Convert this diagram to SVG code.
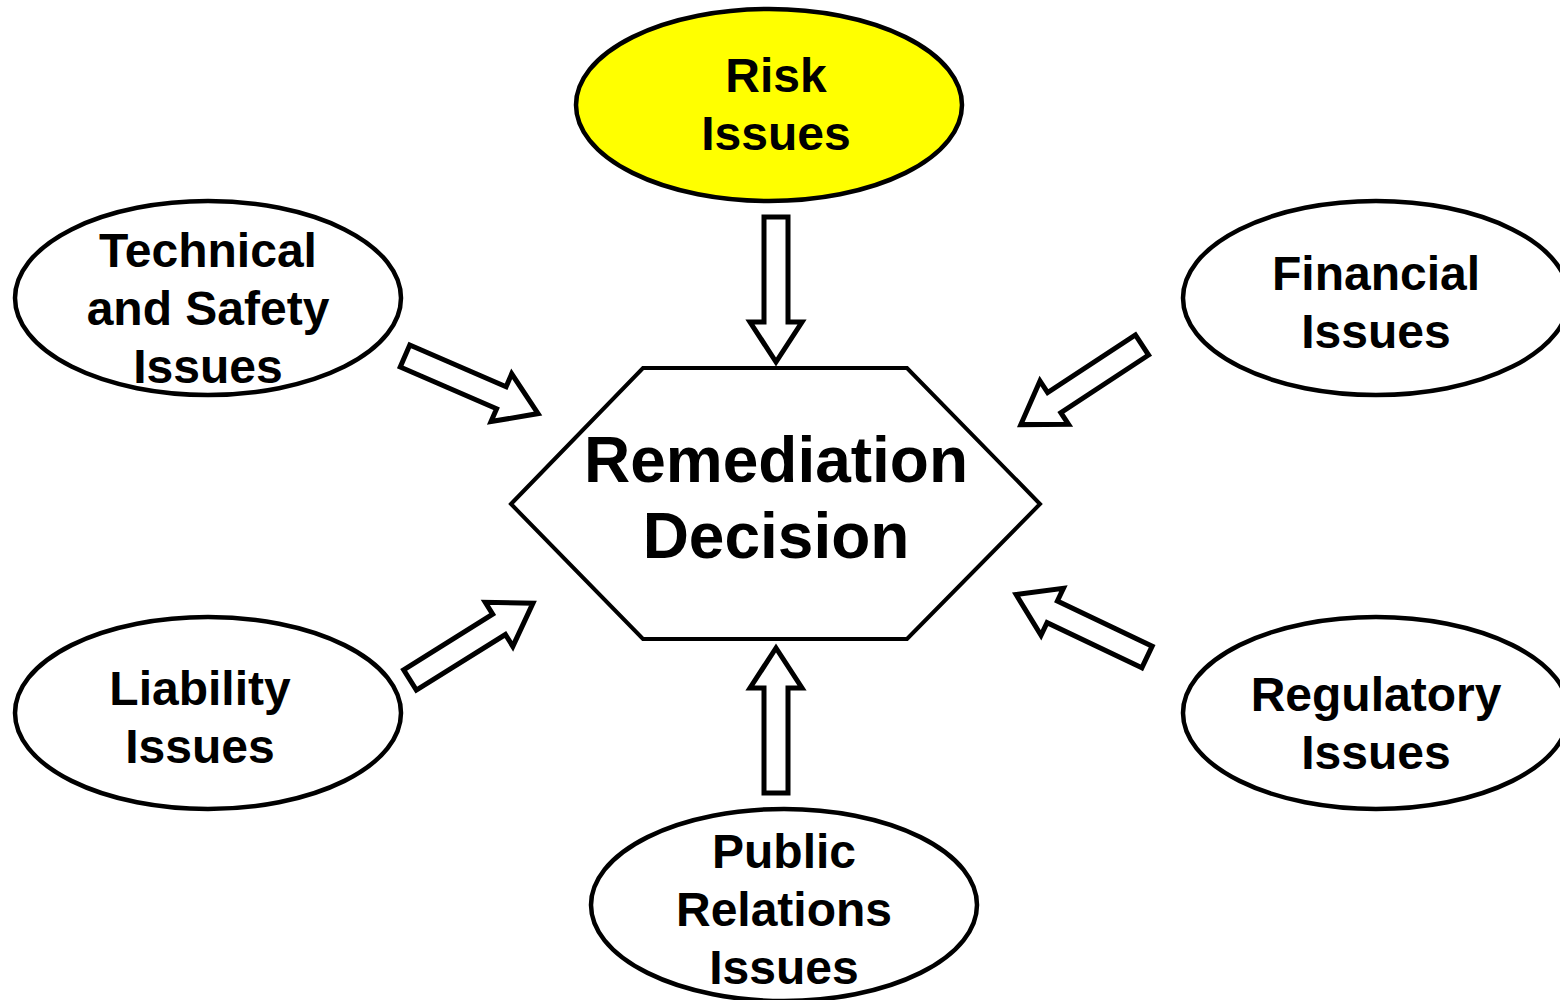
<svg xmlns="http://www.w3.org/2000/svg" width="1560" height="1000" viewBox="0 0 1560 1000">
  <style>
    .node { fill: #ffffff; stroke: #000000; stroke-width: 4.5; }
    .risk { fill: #ffff00; }
    .hex { fill: #ffffff; stroke: #000000; stroke-width: 4; stroke-linejoin: miter; }
    .arrow { fill: #ffffff; stroke: #000000; stroke-width: 5; stroke-linejoin: miter; }
    .label { font-family: "Liberation Sans", Arial, sans-serif; font-weight: bold; font-size: 48px; text-anchor: middle; fill: #000000; }
    .center-label { font-family: "Liberation Sans", Arial, sans-serif; font-weight: bold; font-size: 64px; text-anchor: middle; fill: #000000; }
  </style>
  <defs>
    <!-- block arrow pointing along +x, tail centre at origin -->
    <polygon id="blockArrow" points="0,-12 105,-12 105,-26 145,0 105,26 105,12 0,12"/>
  </defs>
  <rect width="1560" height="1000" fill="#ffffff"/>

  <g id="connectors">
    <use href="#blockArrow" class="arrow" transform="translate(776,217) rotate(90)"/>
    <use href="#blockArrow" class="arrow" transform="translate(776,793) rotate(-90)"/>
    <use href="#blockArrow" class="arrow" transform="translate(405,356) rotate(23.4)"/>
    <use href="#blockArrow" class="arrow" transform="translate(1142,345) rotate(146.7)"/>
    <use href="#blockArrow" class="arrow" transform="translate(410,680) rotate(-32)"/>
    <use href="#blockArrow" class="arrow" transform="translate(1147,657) rotate(-154.5)"/>
  </g>

  <g id="remediation-decision">
    <polygon class="hex" points="511,504 643,368 907,368 1040,504 907,639 643,639"/>
    <text class="center-label" x="776" y="482">Remediation</text>
    <text class="center-label" x="776" y="558">Decision</text>
  </g>

  <g id="risk-issues">
    <ellipse class="node risk" cx="769" cy="105" rx="193" ry="96"/>
    <text class="label" x="776" y="92">Risk</text>
    <text class="label" x="776" y="150">Issues</text>
  </g>

  <g id="technical-safety-issues">
    <ellipse class="node" cx="208" cy="298" rx="193" ry="97"/>
    <text class="label" x="208" y="267">Technical</text>
    <text class="label" x="208" y="325">and Safety</text>
    <text class="label" x="208" y="383">Issues</text>
  </g>

  <g id="financial-issues">
    <ellipse class="node" cx="1376" cy="298" rx="193" ry="97"/>
    <text class="label" x="1376" y="290">Financial</text>
    <text class="label" x="1376" y="348">Issues</text>
  </g>

  <g id="liability-issues">
    <ellipse class="node" cx="208" cy="713" rx="193" ry="96"/>
    <text class="label" x="200" y="705">Liability</text>
    <text class="label" x="200" y="763">Issues</text>
  </g>

  <g id="regulatory-issues">
    <ellipse class="node" cx="1376" cy="713" rx="193" ry="96"/>
    <text class="label" x="1376" y="711">Regulatory</text>
    <text class="label" x="1376" y="769">Issues</text>
  </g>

  <g id="public-relations-issues">
    <ellipse class="node" cx="784" cy="905" rx="193" ry="96"/>
    <text class="label" x="784" y="868">Public</text>
    <text class="label" x="784" y="926">Relations</text>
    <text class="label" x="784" y="984">Issues</text>
  </g>
</svg>
